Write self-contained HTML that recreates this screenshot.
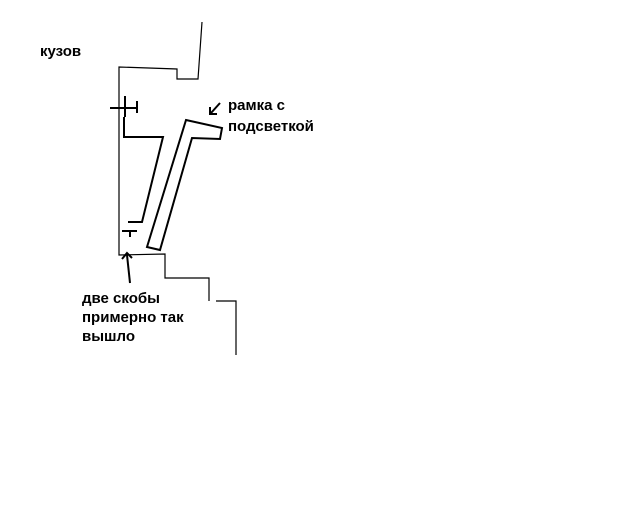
<!DOCTYPE html>
<html><head><style>
body{margin:0;background:#fff;}
svg{display:block}
text{font-family:"Liberation Sans",Arial,sans-serif;font-size:15px;font-weight:bold;fill:#000}
</style></head><body>
<svg width="640" height="512" viewBox="0 0 640 512">
<g fill="none" stroke="#000" stroke-width="1.2">
<polyline points="202,22 198,79 177,79 177,69 119,67 119,255 165,254 165,278 209,278 209,301"/>
<polyline points="216,301 236,301 236,355"/>
</g>
<g fill="none" stroke="#000" stroke-width="2">
<line x1="110" y1="108" x2="138" y2="108"/>
<line x1="125" y1="96" x2="125" y2="117"/>
<line x1="137" y1="101" x2="137" y2="113"/>
<polyline points="124,117 124,137 163,137 142,222 128,222"/>
<line x1="122" y1="231" x2="137" y2="231"/>
<line x1="130" y1="231" x2="130" y2="237"/>
<polygon points="186,120 222,128 220,139 192,138 160,250 147,247"/>
<line x1="130" y1="283" x2="127" y2="255"/>
<polyline points="122,259 127,253 132,258"/>
<line x1="220" y1="103" x2="211" y2="113"/>
<polyline points="210,107 210,114 217,114"/>
</g>
<text x="40" y="56">кузов</text>
<text x="228" y="110">рамка с</text>
<text x="228" y="131">подсветкой</text>
<text x="82" y="303">две скобы</text>
<text x="82" y="322">примерно так</text>
<text x="82" y="341">вышло</text>
</svg>
</body></html>
